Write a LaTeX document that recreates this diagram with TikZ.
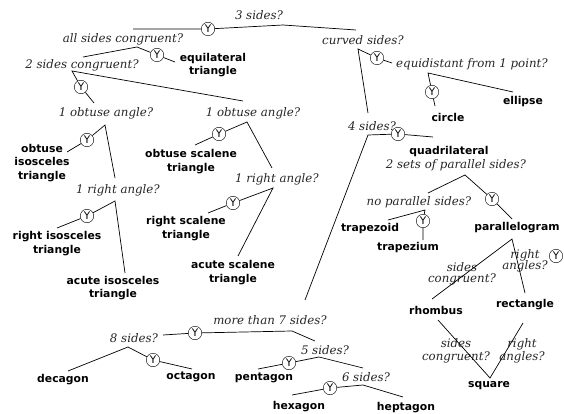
\documentclass[tikz,border=0pt]{standalone}
\usepackage{fontspec}
\newfontfamily\qfont{DejaVu Serif}
\newfontfamily\lfont{DejaVu Sans}
\begin{document}
\begin{tikzpicture}[x=1pt,y=-1pt,
  q/.style={font=\qfont\itshape\fontsize{11.8}{13.5}\selectfont, text=black!85, inner sep=0pt, align=center},
  lab/.style={font=\lfont\bfseries\fontsize{10.8}{13.3}\selectfont, inner sep=0pt, align=center},
  yc/.style={circle, draw, fill=white, minimum size=13.5pt, inner sep=0pt, font=\lfont\fontsize{10.5}{10.5}\selectfont},
  br/.style={line width=0.7pt}]
\useasboundingbox (0,0) rectangle (564,414);

% ---- question texts
\node[q] (q3)   at (259,15)  {3 sides?};
\node[q] (qall) at (123,39)  {all sides congruent?};
\node[q] (q2c)  at (82,65)   {2 sides congruent?};
\node[q] (qobL) at (106,113) {1 obtuse angle?};
\node[q] (qrtL) at (118,190) {1 right angle?};
\node[q] (qobR) at (253,113) {1 obtuse angle?};
\node[q] (qrtR) at (277,179) {1 right angle?};
\node[q] (qcur) at (363,40)  {curved sides?};
\node[q] (qeq)  at (472,64)  {equidistant from 1 point?};
\node[q] (q4)   at (372,126) {4 sides?};
\node[q] (q2p)  at (456,165) {2 sets of parallel sides?};
\node[q] (qnp)  at (419,202) {no parallel sides?};
\node[q] (qscU) at (462,274) {sides\\[-2pt]congruent?};
\node[q] (qraU) at (525,261) {right\\[-2pt]angles?};
\node[q] (qscD) at (456,351) {sides\\congruent?};
\node[q] (qraD) at (522,351) {right\\angles?};
\node[q] (q7)   at (270,320) {more than 7 sides?};
\node[q] (q8)   at (134,338) {8 sides?};
\node[q] (q5)   at (325,350) {5 sides?};
\node[q] (q6)   at (366,377) {6 sides?};

% ---- shape names
\node[lab] (equi)  at (213,65)    {equilateral\\triangle};
\node[lab] (obiso) at (42,163)    {obtuse\\isosceles\\triangle};
\node[lab] (rtiso) at (57,243.5)  {right isosceles\\triangle};
\node[lab] (aciso) at (113,288)   {acute isosceles\\triangle};
\node[lab] (obsca) at (191,161.5) {obtuse scalene\\triangle};
\node[lab] (rtsca) at (186,228.5) {right scalene\\triangle};
\node[lab] (acsca) at (233,272.5) {acute scalene\\triangle};
\node[lab] (circ)  at (448,117)   {circle};
\node[lab] (ell)   at (523,102)   {ellipse};
\node[lab] (quad)  at (449,152)   {quadrilateral};
\node[lab] (trapd) at (370,229)   {trapezoid};
\node[lab] (trapm) at (408,248)   {trapezium};
\node[lab] (para)  at (517,228)   {parallelogram};
\node[lab] (rhom)  at (436,310)   {rhombus};
\node[lab] (rect)  at (525,305)   {rectangle};
\node[lab] (squ)   at (489,386)   {square};
\node[lab] (deca)  at (63,380)    {decagon};
\node[lab] (octa)  at (191,377)   {octagon};
\node[lab] (penta) at (264,378)   {pentagon};
\node[lab] (hexa)  at (299,407)   {hexagon};
\node[lab] (hepta) at (406,408)   {heptagon};

% ---- branch points and branch ends
\coordinate (a3) at (283,25);   \coordinate (e3L) at (133,29);  \coordinate (e3R) at (356,30);
\coordinate (aall) at (137,47); \coordinate (eallL) at (83,57); \coordinate (eallR) at (175,62);
\coordinate (a2c) at (72,71);   \coordinate (e2cL) at (94,103); \coordinate (e2cR) at (243,101);
\coordinate (aobL) at (105,125);\coordinate (eobL1) at (67,152);\coordinate (eobL2) at (115,178);
\coordinate (artL) at (115,201);\coordinate (ertL1) at (57,228);\coordinate (ertL2) at (125,273);
\coordinate (aobR) at (247,122);\coordinate (eobR1) at (195,145);\coordinate (eobR2) at (272,168);
\coordinate (artR) at (273,188);\coordinate (ertR1) at (208,213);\coordinate (ertR2) at (238,256);
\coordinate (acur) at (358,49); \coordinate (ecur1) at (392,63);\coordinate (ecur2) at (368,113);
\coordinate (aeq) at (428,73);  \coordinate (eeq1) at (435,106);\coordinate (eeq2) at (513,92);
\coordinate (a4) at (368,135);  \coordinate (e41) at (433,137); \coordinate (e42) at (305,300);
\coordinate (a2p) at (465,175); \coordinate (e2p1) at (428,193);\coordinate (e2p2) at (512,219);
\coordinate (anp) at (425,210); \coordinate (enp1) at (388,220);\coordinate (enp2) at (423,240);
\coordinate (apar) at (512,239);\coordinate (epar1) at (432,299);\coordinate (epar2) at (525,293);
\coordinate (asq) at (490,378); \coordinate (esq1) at (438,320);\coordinate (esq2) at (523,323);
\coordinate (a7) at (292,331);  \coordinate (e71) at (163,335); \coordinate (e72) at (315,341);
\coordinate (a8) at (128,347);  \coordinate (e81) at (68,371);  \coordinate (e82) at (192,369);
\coordinate (a5) at (319,357);  \coordinate (e51) at (258,369); \coordinate (e52) at (363,368);
\coordinate (a6) at (363,385);  \coordinate (e61) at (292,395); \coordinate (e62) at (403,397);

% ---- "yes" markers
\node[yc] (y3)   at (208,29)  {Y};
\node[yc] (yall) at (157,55)  {Y};
\node[yc] (y2c)  at (81,87)   {Y};
\node[yc] (yobL) at (87,140)  {Y};
\node[yc] (yrtL) at (87,216)  {Y};
\node[yc] (yobR) at (219,134) {Y};
\node[yc] (yrtR) at (233,203) {Y};
\node[yc] (ycur) at (377,58)  {Y};
\node[yc] (yeq)  at (432,92)  {Y};
\node[yc] (y4)   at (398,134) {Y};
\node[yc] (y2p)  at (492,199) {Y};
\node[yc] (ynp)  at (423,221) {Y};
\node[yc] (ypar) at (556,256) {Y};
\node[yc] (y7)   at (195,333) {Y};
\node[yc] (y8)   at (153,360) {Y};
\node[yc] (y5)   at (289,363) {Y};
\node[yc] (y6)   at (330,388) {Y};

% ---- branches
\draw[br] (e3L) -- (y3) -- (a3) -- (e3R);
\draw[br] (eallL) -- (aall) -- (yall) -- (eallR);
\draw[br] (e2cR) -- (a2c) -- (y2c) -- (e2cL);
\draw[br] (eobL1) -- (yobL) -- (aobL) -- (eobL2);
\draw[br] (ertL1) -- (yrtL) -- (artL) -- (ertL2);
\draw[br] (eobR1) -- (yobR) -- (aobR) -- (eobR2);
\draw[br] (ertR1) -- (yrtR) -- (artR) -- (ertR2);
\draw[br] (ecur2) -- (acur) -- (ycur) -- (ecur1);
\draw[br] (eeq1) -- (yeq) -- (aeq) -- (eeq2);
\draw[br] (e42) -- (a4) -- (y4) -- (e41);
\draw[br] (e2p1) -- (a2p) -- (y2p) -- (e2p2);
\draw[br] (enp1) -- (anp) -- (ynp) -- (enp2);
\draw[br] (epar1) -- (apar) -- (epar2);
\draw[br] (esq1) -- (asq) -- (esq2);
\draw[br] (e71) -- (y7) -- (a7) -- (e72);
\draw[br] (e81) -- (a8) -- (y8) -- (e82);
\draw[br] (e51) -- (y5) -- (a5) -- (e52);
\draw[br] (e61) -- (y6) -- (a6) -- (e62);
\end{tikzpicture}
\end{document}
